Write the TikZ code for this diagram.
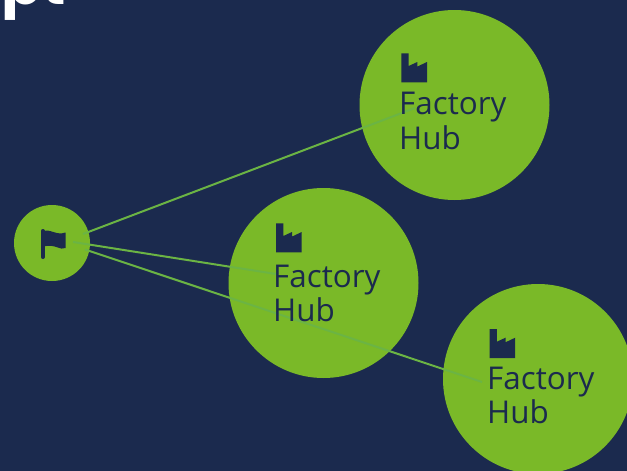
\documentclass[tikz,border=0pt]{standalone}
\usepackage{fontspec}
\setmainfont{Open Sans}
\newfontfamily\titlefont{Poppins}
\definecolor{navy}{HTML}{1B2A4E}
\definecolor{leaf}{HTML}{7AB928}
\definecolor{wire}{HTML}{6BB444}

\tikzset{
  hub/.style={circle, fill=leaf, minimum size=190pt, inner sep=0pt},
  flagnode/.style={circle, fill=leaf, minimum size=76pt, inner sep=0pt},
  hublabel/.style={text=navy, align=left, anchor=north west, inner sep=0pt,
      font=\fontsize{31.4}{34.5}\selectfont},
  wireline/.style={wire, line width=2pt},
}

\begin{document}
\begin{tikzpicture}[x=1pt, y=-1pt]
  \useasboundingbox (0, 0) rectangle (627, 471);
  \clip (0, 0) rectangle (627, 471);
  \fill[navy] (0, 0) rectangle (627, 471);

  \node[text=white, anchor=base west, inner sep=0pt, font=\titlefont\bfseries\fontsize{60}{60}\selectfont]
    (title) at (1, 5) {pt};

  \node[flagnode] (flag) at (52, 243) {};
  \node[hub] (hubtop) at (454.5, 105) {};
  \node[hub] (hubmid) at (323.5, 283) {};
  \node[hub] (hubright) at (538, 379) {};

  % where the connectors start and stop
  \coordinate (starttop) at (83, 234);
  \coordinate (startmid) at (73, 242);
  \coordinate (startright) at (85, 249.5);
  \coordinate (endtop) at (415, 108);
  \coordinate (endmid) at (276, 274);
  \coordinate (endright) at (482, 382);

  \draw[wireline] (starttop) -- (endtop);
  \draw[wireline] (startmid) -- (endmid);
  \draw[wireline] (startright) -- (endright);

  % flag
  \draw[navy, line width=4pt, line cap=round] (42.8, 231) -- (42.8, 257);
  \fill[navy] (43, 231.5) .. controls (50, 228) and (56, 236) .. (65.5, 232.5)
    -- (65.5, 248) .. controls (60, 251) and (56, 243.5) .. (43, 246.5) -- cycle;

  % hubs, with their factories
  \foreach \nm/\ix/\iy/\tx/\ty in {
      top/401.3/53.3/399/92, mid/276/223.3/273/264.5, right/489.5/329/487/366.5
    } {
      \fill[navy] (\ix, \iy) -- ++(7.4, 0) -- ++(0, 12.7) -- ++(8.6, -4) -- ++(0, 4.6)
        -- ++(9.7, -4.6) -- ++(0, 20.3) -- ++(-25.7, 0) -- cycle;
      \node[hublabel] (label\nm) at (\tx, \ty) {Factory\\Hub};
    }
\end{tikzpicture}
\end{document}
